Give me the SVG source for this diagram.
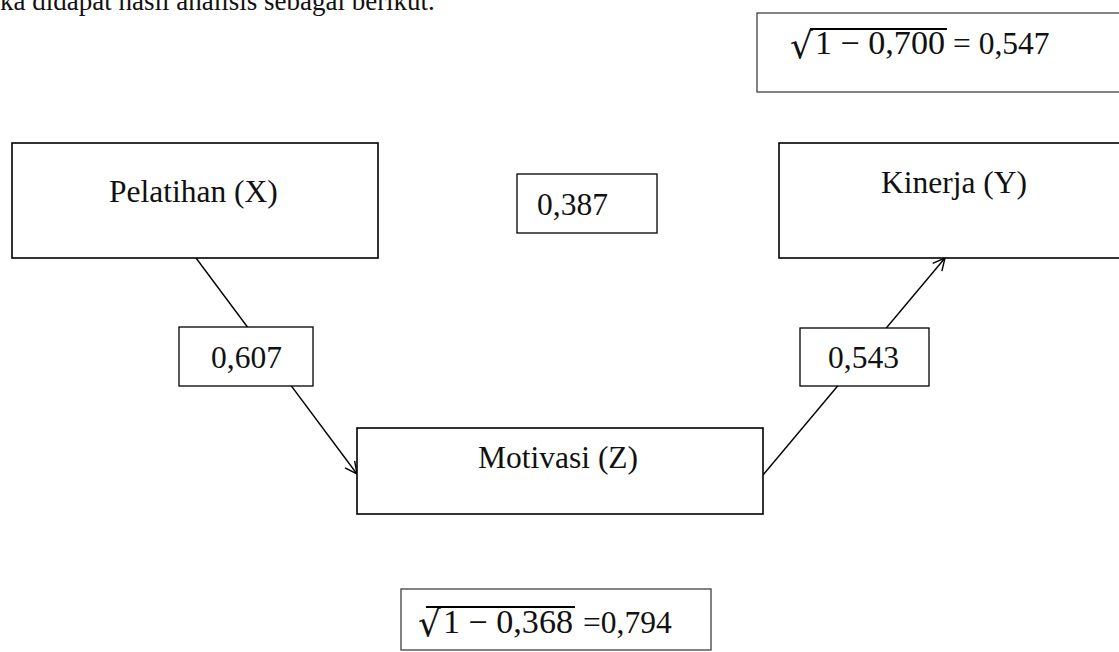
<svg xmlns="http://www.w3.org/2000/svg" width="1119" height="652" viewBox="0 0 1119 652">
<style>
.bg{fill:#ffffff}
.box{fill:#ffffff;stroke:#000000;stroke-width:1.6}
.lbox{fill:#ffffff;stroke:#000000;stroke-width:1.3}
.gbox{fill:#ffffff;stroke:#404040;stroke-width:1.3}
.t{font-family:"Liberation Serif","Times New Roman",serif;font-size:31.5px;fill:#111111}
.body{font-family:"Liberation Serif","Times New Roman",serif;font-size:27px;fill:#111111}
.m{font-family:"Liberation Serif","Times New Roman",serif;font-size:33px;fill:#111111}
.rad{font-family:"DejaVu Serif","Liberation Serif",serif;font-size:36px;fill:#111111}
.conn{stroke:#000000;stroke-width:1.4;fill:none}
.vin{stroke:#000000;stroke-width:2}
</style>
<defs>
<marker id="arr" viewBox="0 0 14 14" refX="13" refY="7" markerWidth="14" markerHeight="14" markerUnits="userSpaceOnUse" orient="auto">
<path d="M1,1 L13,7 L1,13" fill="none" stroke="#000000" stroke-width="1.4"/>
</marker>
</defs>
<rect class="bg" x="0" y="0" width="1119" height="652"/>
<text class="body" x="0" y="10">ka didapat hasil analisis sebagai berikut.</text>

<g id="connectors">
<line class="conn" x1="196" y1="258" x2="357" y2="474" marker-end="url(#arr)"/>
<line class="conn" x1="763" y1="475" x2="945" y2="258" marker-end="url(#arr)"/>
</g>

<g id="node-error-y">
<rect class="gbox" x="757" y="13" width="375" height="79"/>
<text class="rad" x="790" y="58">√</text>
<line class="vin" x1="810" y1="29" x2="947" y2="29"/>
<text class="m" x="815" y="54" textLength="130" lengthAdjust="spacingAndGlyphs">1 − 0,700</text>
<text class="t" x="953" y="54">= 0,547</text>
</g>

<g id="node-x">
<rect class="box" x="12" y="143" width="366" height="115"/>
<text class="t" x="109" y="202">Pelatihan (X)</text>
</g>

<g id="node-direct">
<rect class="lbox" x="517" y="174" width="140" height="59"/>
<text class="t" x="537" y="215">0,387</text>
</g>

<g id="node-y">
<rect class="box" x="779" y="143" width="352" height="115"/>
<text class="t" x="881" y="193">Kinerja (Y)</text>
</g>

<g id="node-xz">
<rect class="lbox" x="179" y="327" width="134" height="59"/>
<text class="t" x="211" y="368">0,607</text>
</g>

<g id="node-zy">
<rect class="lbox" x="800" y="328" width="129" height="58"/>
<text class="t" x="828" y="368">0,543</text>
</g>

<g id="node-z">
<rect class="box" x="357" y="428" width="406" height="86"/>
<text class="t" x="478" y="468">Motivasi (Z)</text>
</g>

<g id="node-error-z">
<rect class="gbox" x="401" y="589" width="310" height="61"/>
<text class="rad" x="418" y="636">√</text>
<line class="vin" x1="426" y1="607" x2="575" y2="607"/>
<text class="m" x="443" y="633" textLength="130" lengthAdjust="spacingAndGlyphs">1 − 0,368</text>
<text class="t" x="583" y="633">=0,794</text>
</g>
</svg>
